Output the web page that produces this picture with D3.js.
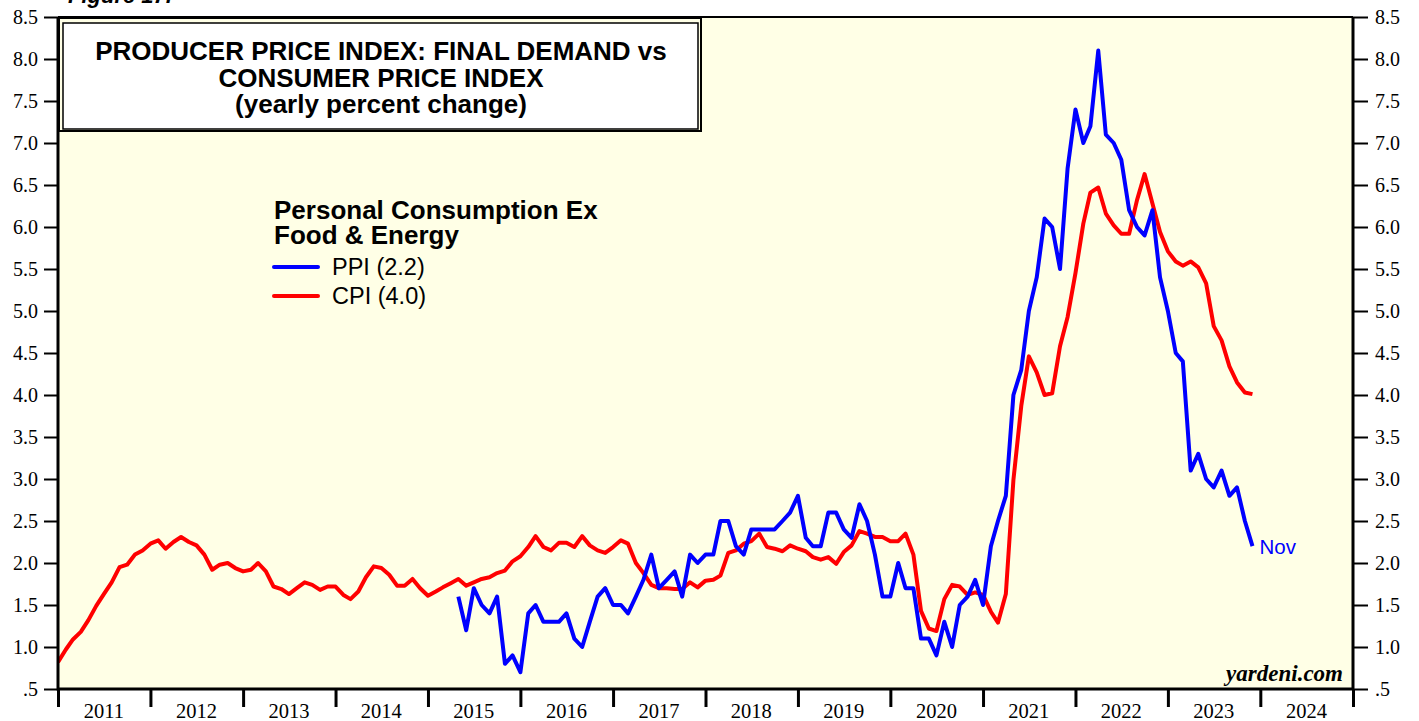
<!DOCTYPE html>
<html>
<head>
<meta charset="utf-8">
<script src="https://cdn.jsdelivr.net/npm/d3@7"></script>
<style>
  body { margin: 0; background: #ffffff; }
  svg { display: block; }
</style>
</head>
<body>
<div id="chart"></div>
<script>
// yearly percent change, personal consumption ex food & energy
// cpi starts Dec 2010, ppi starts Apr 2015, both end Nov 2023
var cpiStart = [2010, 11];
var cpiValues = [
    0.82,
    0.97, 1.09, 1.18, 1.32, 1.49, 1.63, 1.77, 1.95, 1.98, 2.10, 2.15, 2.23,
    2.27, 2.17, 2.25, 2.31, 2.25, 2.21, 2.10, 1.92, 1.98, 2.00, 1.94, 1.90,
    1.92, 2.00, 1.90, 1.72, 1.69, 1.63, 1.70, 1.77, 1.74, 1.68, 1.72, 1.72,
    1.62, 1.57, 1.66, 1.83, 1.96, 1.94, 1.86, 1.73, 1.73, 1.81, 1.70, 1.61,
    1.66, 1.71, 1.76, 1.81, 1.73, 1.77, 1.81, 1.83, 1.88, 1.91, 2.02, 2.08,
    2.19, 2.32, 2.19, 2.15, 2.24, 2.24, 2.19, 2.32, 2.21, 2.15, 2.12, 2.19,
    2.27, 2.23, 2.00, 1.88, 1.74, 1.70, 1.70, 1.69, 1.69, 1.77, 1.71, 1.79,
    1.80, 1.85, 2.12, 2.15, 2.23, 2.26, 2.35, 2.19, 2.17, 2.14, 2.21, 2.17,
    2.14, 2.07, 2.04, 2.07, 1.99, 2.13, 2.21, 2.38, 2.35, 2.31, 2.31, 2.26,
    2.26, 2.35, 2.10, 1.43, 1.22, 1.19, 1.57, 1.74, 1.72, 1.62, 1.65, 1.62,
    1.42, 1.29, 1.63, 2.99, 3.87, 4.46, 4.27, 4.00, 4.02, 4.58, 4.93, 5.45,
    6.04, 6.41, 6.47, 6.16, 6.02, 5.92, 5.92, 6.32, 6.63, 6.28, 5.94, 5.71,
    5.59, 5.54, 5.59, 5.52, 5.33, 4.82, 4.65, 4.34, 4.15, 4.03, 4.01
];

var ppiStart = [2015, 3];
var ppiValues = [
    1.6, 1.2, 1.7, 1.5, 1.4, 1.6, 0.8, 0.9, 0.7,
    1.4, 1.5, 1.3, 1.3, 1.3, 1.4, 1.1, 1.0, 1.3, 1.6, 1.7, 1.5,
    1.5, 1.4, 1.6, 1.8, 2.1, 1.7, 1.8, 1.9, 1.6, 2.1, 2.0, 2.1,
    2.1, 2.5, 2.5, 2.2, 2.1, 2.4, 2.4, 2.4, 2.4, 2.5, 2.6, 2.8,
    2.3, 2.2, 2.2, 2.6, 2.6, 2.4, 2.3, 2.7, 2.5, 2.1, 1.6, 1.6,
    2.0, 1.7, 1.7, 1.1, 1.1, 0.9, 1.3, 1.0, 1.5, 1.6, 1.8, 1.5,
    2.2, 2.5, 2.8, 4.0, 4.3, 5.0, 5.4, 6.1, 6.0, 5.5, 6.7, 7.4,
    7.0, 7.2, 8.1, 7.1, 7.0, 6.8, 6.2, 6.0, 5.9, 6.2, 5.4, 5.0,
    4.5, 4.4, 3.1, 3.3, 3.0, 2.9, 3.1, 2.8, 2.9, 2.5, 2.2
];

var yearLabels = [2011, 2012, 2013, 2014, 2015, 2016, 2017, 2018, 2019, 2020, 2021, 2022, 2023, 2024];
var yTicks = [0.5, 1, 1.5, 2, 2.5, 3, 3.5, 4, 4.5, 5, 5.5, 6, 6.5, 7, 7.5, 8, 8.5];

var titleLines = ["PRODUCER PRICE INDEX: FINAL DEMAND vs", "CONSUMER PRICE INDEX", "(yearly percent change)"];
var legendTitle = ["Personal Consumption Ex", "Food & Energy"];
var legendItems = [
    { name: "PPI (2.2)", color: "#0000ff" },
    { name: "CPI (4.0)", color: "#ff0000" }
];

(function draw() {
    "use strict";

    var width = 1419, height = 721;
    var plotLeft = 58, plotRight = 1353, plotTop = 17, plotBottom = 689;
    var sans = "Liberation Sans, Arial, sans-serif";
    var serif = "Liberation Serif, Times New Roman, serif";

    // monthly value is plotted at the end of its month
    var toSeries = function toSeries(start, values) {
        return values.map(function(v, i) {
            return { date: new Date(start[0], start[1] + i + 1, 1), value: v };
        });
    };

    var cpi = toSeries(cpiStart, cpiValues);
    var ppi = toSeries(ppiStart, ppiValues);

    var x = d3.scaleTime()
        .domain([new Date(2011, 0, 1), new Date(2025, 0, 1)])
        .range([plotLeft, plotRight]);

    var y = d3.scaleLinear()
        .domain([0.5, 8.5])
        .range([plotBottom, plotTop]);

    var svg = d3.select("#chart").append("svg")
        .attr("width", width)
        .attr("height", height);

    svg.append("rect")
        .attr("x", plotLeft).attr("y", plotTop)
        .attr("width", plotRight - plotLeft).attr("height", plotBottom - plotTop)
        .attr("fill", "#ffffe6");

    svg.append("text")
        .attr("x", 68).attr("y", 3)
        .attr("font-family", sans)
        .attr("font-weight", "bold").attr("font-style", "italic")
        .attr("font-size", 22)
        .text("Figure 17.");

    // y axes, left and right
    var fmt = function(d) {
        return d === 0.5 ? ".5" : d3.format(".1f")(d);
    };

    var yLeft = svg.append("g")
        .attr("transform", "translate(" + plotLeft + ",0)")
        .call(d3.axisLeft(y).tickValues(yTicks).tickFormat(fmt).tickSize(14).tickPadding(6));

    var yRight = svg.append("g")
        .attr("transform", "translate(" + plotRight + ",0)")
        .call(d3.axisRight(y).tickValues(yTicks).tickFormat(fmt).tickSize(15).tickPadding(7));

    [yLeft, yRight].forEach(function(g) {
        g.select(".domain").remove();
        g.selectAll("line").attr("stroke", "#000").attr("stroke-width", 2);
        g.selectAll("text")
            .attr("font-family", serif)
            .attr("font-size", 20)
            .attr("fill", "#000");
    });

    // x axis: year ticks at boundaries, labels mid-year
    var xg = svg.append("g")
        .attr("transform", "translate(0," + plotBottom + ")");

    xg.call(d3.axisBottom(x)
        .tickValues(d3.range(2011, 2026).map(function(yr) { return new Date(yr, 0, 1); }))
        .tickFormat("")
        .tickSize(18));
    xg.select(".domain").remove();
    xg.selectAll("line").attr("stroke", "#000").attr("stroke-width", 3);

    xg.selectAll(".year")
        .data(yearLabels)
        .enter().append("text")
        .attr("class", "year")
        .attr("x", function(d) { return x(new Date(d, 6, 1)); })
        .attr("y", 29)
        .attr("text-anchor", "middle")
        .attr("font-family", serif)
        .attr("font-size", 20.5)
        .attr("fill", "#000")
        .text(function(d) { return d; });

    // lines
    svg.append("clipPath").attr("id", "plot-clip")
        .append("rect")
        .attr("x", plotLeft).attr("y", plotTop)
        .attr("width", plotRight - plotLeft).attr("height", plotBottom - plotTop);

    var line = d3.line()
        .x(function(d) { return x(d.date); })
        .y(function(d) { return y(d.value); });

    var lines = svg.append("g").attr("clip-path", "url(#plot-clip)");

    lines.append("path")
        .datum(cpi)
        .attr("d", line)
        .attr("fill", "none")
        .attr("stroke", "#ff0000")
        .attr("stroke-width", 4)
        .attr("stroke-linejoin", "round");

    lines.append("path")
        .datum(ppi)
        .attr("d", line)
        .attr("fill", "none")
        .attr("stroke", "#0000ff")
        .attr("stroke-width", 4)
        .attr("stroke-linejoin", "round");

    var lastPpi = ppi[ppi.length - 1];
    svg.append("text")
        .attr("x", x(lastPpi.date) + 7)
        .attr("y", y(lastPpi.value) + 8)
        .attr("font-family", sans)
        .attr("font-size", 20.5)
        .attr("fill", "#0000ff")
        .text("Nov");

    // title box
    svg.append("rect")
        .attr("x", plotLeft + 1).attr("y", plotTop + 1)
        .attr("width", 642).attr("height", 113)
        .attr("fill", "#ffffe6")
        .attr("stroke", "#000").attr("stroke-width", 2);

    svg.append("rect")
        .attr("x", 63).attr("y", 23)
        .attr("width", 635).attr("height", 106)
        .attr("fill", "#ffffff")
        .attr("stroke", "#000").attr("stroke-width", 1.5);

    svg.append("g").selectAll("text")
        .data(titleLines)
        .enter().append("text")
        .attr("x", 381)
        .attr("y", function(d, i) { return 60 + i * 26.5; })
        .attr("text-anchor", "middle")
        .attr("font-family", sans)
        .attr("font-weight", "bold")
        .attr("font-size", 26)
        .text(function(d) { return d; });

    // legend
    var legend = svg.append("g");

    legend.selectAll(".ltitle")
        .data(legendTitle)
        .enter().append("text")
        .attr("class", "ltitle")
        .attr("x", 274)
        .attr("y", function(d, i) { return 219 + i * 25; })
        .attr("font-family", sans)
        .attr("font-weight", "bold")
        .attr("font-size", 26)
        .text(function(d) { return d; });

    var items = legend.selectAll(".item")
        .data(legendItems)
        .enter().append("g")
        .attr("class", "item")
        .attr("transform", function(d, i) { return "translate(0," + (267 + i * 29) + ")"; });

    items.append("line")
        .attr("x1", 274).attr("x2", 318)
        .attr("stroke", function(d) { return d.color; })
        .attr("stroke-width", 4)
        .attr("stroke-linecap", "round");

    items.append("text")
        .attr("x", 332).attr("y", 8)
        .attr("font-family", sans)
        .attr("font-size", 23.5)
        .text(function(d) { return d.name; });

    svg.append("text")
        .attr("x", 1343).attr("y", 681)
        .attr("text-anchor", "end")
        .attr("font-family", serif)
        .attr("font-weight", "bold").attr("font-style", "italic")
        .attr("font-size", 23)
        .text("yardeni.com");

    // plot frame
    svg.append("path")
        .attr("d", "M" + plotLeft + "," + plotTop + "H" + plotRight)
        .attr("stroke", "#000").attr("stroke-width", 2).attr("fill", "none");
    svg.append("path")
        .attr("d", "M" + plotLeft + "," + plotTop + "V" + plotBottom + "H" + plotRight + "V" + plotTop)
        .attr("stroke", "#000").attr("stroke-width", 3).attr("fill", "none");
})();
</script>
</body>
</html>
